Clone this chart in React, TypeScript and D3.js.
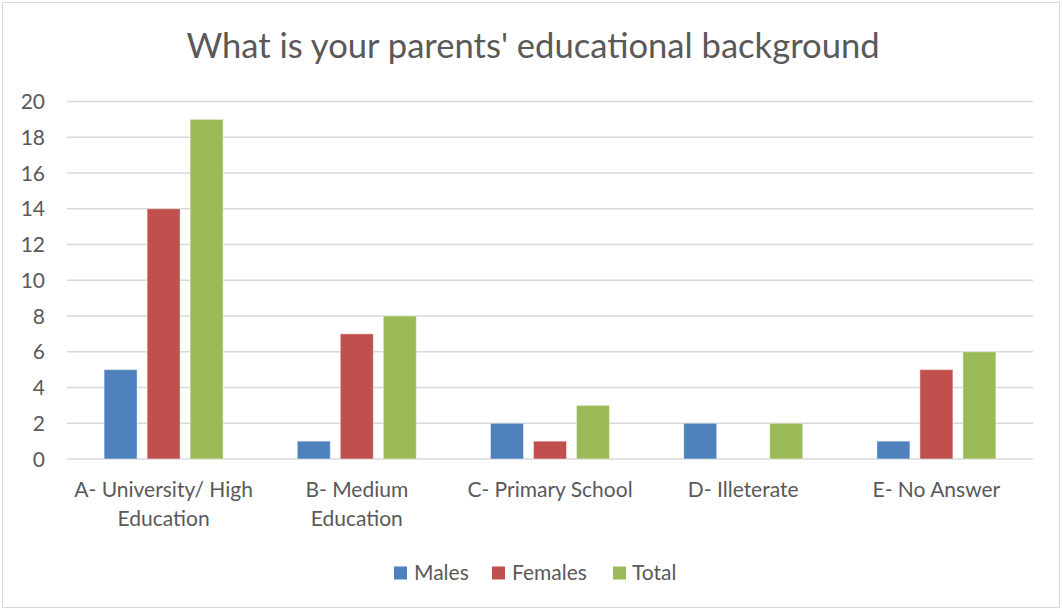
import React from "react";
import * as d3 from "d3";

const categories = [
  ["A- University/ High", "Education"],
  ["B- Medium", "Education"],
  ["C- Primary School"],
  ["D- Illeterate"],
  ["E- No Answer"],
];
const seriesNames = ["Males", "Females", "Total"];
const males = [5, 1, 2, 2, 1];
const females = [14, 7, 1, 0, 5];
const total = [19, 8, 3, 2, 6];
const yTicks = [0, 2, 4, 6, 8, 10, 12, 14, 16, 18, 20];
const colors = ["#4F81BD", "#C0504D", "#9BBB59"];
const title = "What is your parents' educational background";

const W = 1062;
const H = 610;
const FONT = "Lato, 'Open Sans', sans-serif";
const TXT = "#595959";
const FS = 21;

export default function App() {
  const values = [males, females, total];
  const catKeys = categories.map((c) => c.join(" "));
  const x = d3.scaleBand().domain(catKeys).range([67, 1033]).paddingInner(0).paddingOuter(0);
  const y = d3.scaleLinear().domain([0, 20]).range([459, 101.5]);
  const groupW = 119;

  return (
    <svg width={W} height={H} style={{ position: "absolute", left: 0, top: 0 }}>
      <rect x={2.5} y={2.5} width={W - 5} height={H - 5} fill="#fff" stroke="#d9d9d9" strokeWidth={1} />
      <text x={533} y={58} textAnchor="middle" fontFamily={FONT} fontSize={34.6} fill={TXT}>
        {title}
      </text>
      {yTicks.map((t) => (
        <g key={t}>
          <line x1={67} x2={1033} y1={y(t)} y2={y(t)} stroke="#d9d9d9" strokeWidth={1.3} />
          <text x={45} y={y(t) + 7.5} textAnchor="end" fontFamily={FONT} fontSize={FS} fill={TXT}>
            {t}
          </text>
        </g>
      ))}
      {catKeys.map((k, ci) => {
        const cx = (x(k) as number) + x.bandwidth() / 2;
        const inner = d3
          .scaleBand()
          .domain(seriesNames)
          .range([cx - groupW / 2, cx + groupW / 2])
          .paddingInner(10 / 43)
          .paddingOuter(0);
        return (
          <g key={k}>
            {seriesNames.map((s, si) => {
              const v = values[si][ci];
              if (v <= 0) return null;
              return (
                <rect
                  key={s}
                  x={inner(s)}
                  y={y(v)}
                  width={inner.bandwidth()}
                  height={y(0) - y(v)}
                  fill={colors[si]}
                  stroke="#ffffff"
                  strokeOpacity={0.45}
                  strokeWidth={1}
                />
              );
            })}
            {categories[ci].map((line, li) => (
              <text
                key={li}
                x={cx}
                y={497 + li * 28.5}
                textAnchor="middle"
                fontFamily={FONT}
                fontSize={FS}
                fill={TXT}
              >
                {line}
              </text>
            ))}
          </g>
        );
      })}
      {(() => {
        const items = [
          { sx: 394, tx: 414 },
          { sx: 492, tx: 512 },
          { sx: 613, tx: 632 },
        ];
        return seriesNames.map((s, i) => (
          <g key={s}>
            <rect x={items[i].sx} y={566.5} width={13} height={13} fill={colors[i]} />
            <text x={items[i].tx} y={580} fontFamily={FONT} fontSize={FS} fill={TXT}>
              {s}
            </text>
          </g>
        ));
      })()}
    </svg>
  );
}
